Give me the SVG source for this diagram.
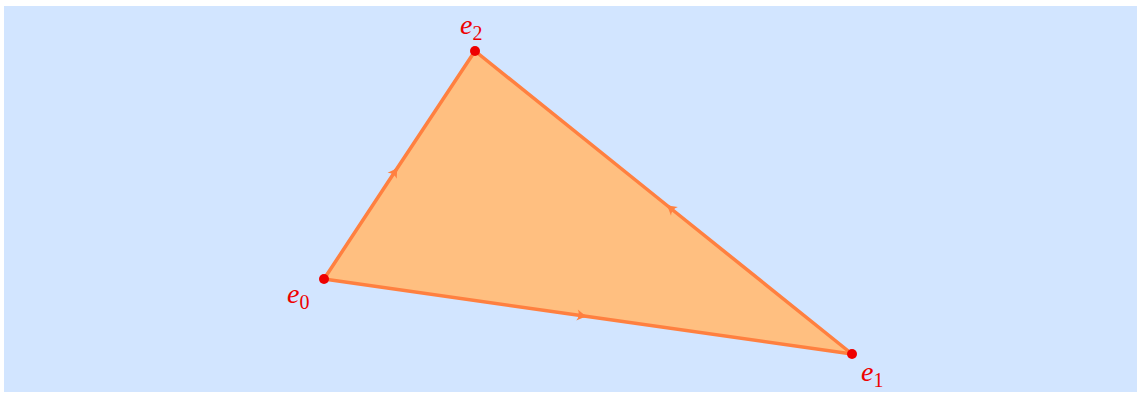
<svg xmlns="http://www.w3.org/2000/svg" width="1141" height="394" viewBox="0 0 1141 394">
<style>
.edge{fill:none;stroke:#FF8040;stroke-width:3.5;stroke-linecap:round;marker-mid:url(#arr)}
.dot{fill:#EE0000}
.lbl{font-family:"Liberation Serif",serif;font-style:italic;font-size:28px;fill:#EE0000}
.sub{font-style:normal;font-size:20px}
</style>
<defs>
<marker id="arr" viewBox="-10 -6 16 12" markerWidth="16" markerHeight="12" markerUnits="userSpaceOnUse" orient="auto" refX="0" refY="0">
<path d="M5,0 Q-2,-1.5 -7,-5.5 Q-3.5,0 -7,5.5 Q-2,1.5 5,0 Z" fill="#FF8040"/>
</marker>
</defs>
<rect x="4" y="6" width="1133" height="386" fill="#D2E5FF"/>
<polygon points="324,279 852,354 475,51" fill="#FFBF80"/>
<g id="connectors">
<path class="edge" d="M324,279 L584,316 L852,354"/>
<path class="edge" d="M852,354 L669,207 L475,51"/>
<path class="edge" d="M324,279 L396,170 L475,51"/>
</g>
<g id="e0"><circle class="dot" cx="324" cy="279" r="5"/><text class="lbl" x="287" y="303">e<tspan class="sub" dy="6">0</tspan></text></g>
<g id="e1"><circle class="dot" cx="852" cy="354" r="5"/><text class="lbl" x="861" y="381">e<tspan class="sub" dy="6">1</tspan></text></g>
<g id="e2"><circle class="dot" cx="475" cy="51" r="5"/><text class="lbl" x="460" y="34">e<tspan class="sub" dy="6">2</tspan></text></g>
</svg>
